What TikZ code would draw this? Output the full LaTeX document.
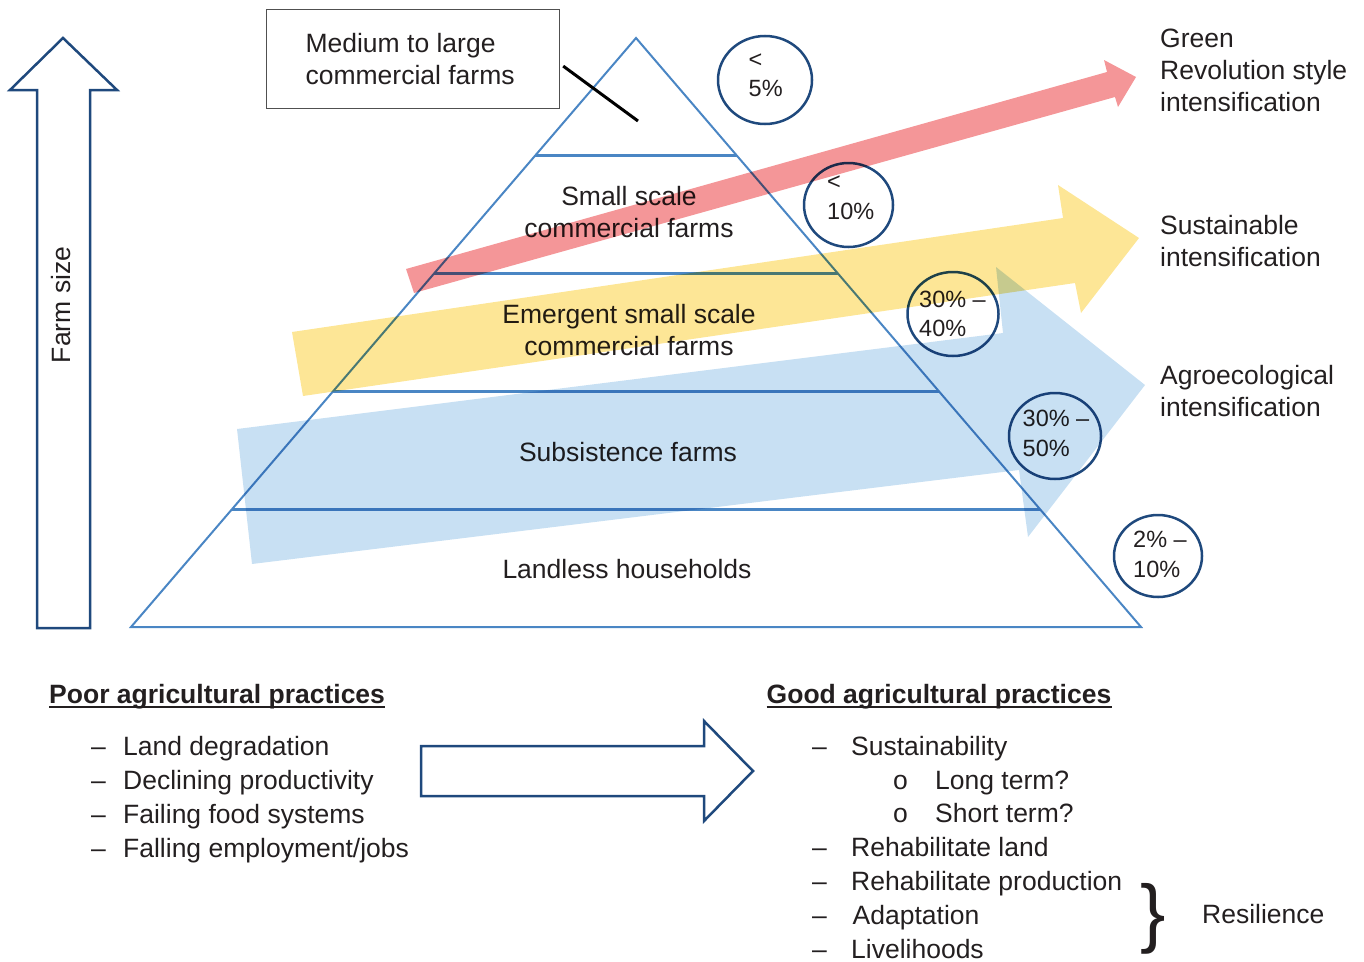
\documentclass[tikz,border=0pt]{standalone}
\usepackage{fontspec}
\setmainfont{Liberation Sans}
\usetikzlibrary{calc,shapes.geometric}

\definecolor{ink}{RGB}{35,31,32}
\definecolor{pyrblue}{RGB}{74,134,196}
\definecolor{navy}{RGB}{31,73,125}
\definecolor{boxgray}{RGB}{80,80,80}
\definecolor{redarr}{RGB}{244,150,152}
\definecolor{yelarr}{RGB}{253,230,150}
\definecolor{bluarr}{RGB}{200,224,243}

\newcommand\lblfont{\fontsize{26.5}{32}\selectfont}
\newcommand\listfont{\fontsize{26.5}{33.8}\selectfont}
\newcommand\pctfont{\fontsize{23.5}{29.5}\selectfont}

\begin{document}
\begin{tikzpicture}[x=1pt,y=-1pt,
    label text/.style={font=\lblfont,text=ink,inner sep=0pt},
    pct ring/.style={ellipse,draw=navy,line width=2.5pt,inner sep=0pt},
    pct text/.style={font=\pctfont,text=ink,align=left,inner sep=0pt,anchor=base west},
    wide arrow/.style={blend mode=multiply}]

  \useasboundingbox (0,0) rectangle (1364,961);

  % farm size arrow
  \draw[navy,line width=2.5pt] (37,628) -- (37,90) -- (10,90) -- (63,38) -- (117,90) -- (90,90) -- (90,628) -- cycle;
  \node[label text,rotate=90,anchor=base] (farmsize) at (70,305) {Farm size};

  % pyramid
  \coordinate (apex) at (636,38);
  \coordinate (bl) at (131,627);
  \coordinate (br) at (1141,627);
  \draw[pyrblue,line width=2pt] (apex) -- (br) -- (bl) -- cycle;
  \foreach \f in {0.2,0.4,0.6,0.8}
    \draw[pyrblue,line width=2.8pt] ($(apex)!\f!(bl)$) -- ($(apex)!\f!(br)$);

  % base anchor of a multi-line node = baseline of its last line
  \node[label text,align=center,anchor=base] (smallfarms) at (629,237.5) {Small scale\\commercial farms};
  \node[label text,align=center,anchor=base] (emergent) at (629,355.5) {Emergent small scale\\commercial farms};
  \node[label text,anchor=base] (subsist) at (628,461.5) {Subsistence farms};
  \node[label text,anchor=base] (landless) at (627,578.5) {Landless households};

  % top box
  \node[label text,draw=boxgray,line width=1.2pt,align=left,minimum width=293,minimum height=99,anchor=north west] (bigfarms) at (266,9) {Medium to large\\commercial farms\hspace*{6pt}};
  \coordinate (mark) at (638,121);
  \draw[black,line width=3pt] ([xshift=3pt,yshift=-7pt]bigfarms.east) -- (mark);

  % shares
  \node[pct ring,minimum width=94,minimum height=88] (pc1) at (765,80) {};
  \node[pct ring,minimum width=89,minimum height=84] (pc2) at (848.5,205) {};
  \node[pct ring,minimum width=91,minimum height=84] (pc3) at (953,314) {};
  \node[pct ring,minimum width=92,minimum height=86] (pc4) at (1055,436) {};
  \node[pct ring,minimum width=88,minimum height=82] (pc5) at (1158,556) {};
  \node[pct text] (t1) at (748.5,96.5) {<\\5\%};
  \node[pct text] (t2) at (827,219.3) {<\\10\%};
  \node[pct text] (t3) at (919,336.7) {30\% –\\40\%};
  \node[pct text] (t4) at (1022.5,456) {30\% –\\50\%};
  \node[pct text] (t5) at (1133,577) {2\% –\\10\%};

  % intensification pathways
  \fill[bluarr,wide arrow] (237,429) -- (1003,333) -- (996,267) -- (1145,385) -- (1028,537) -- (1019,470) -- (252,564) -- cycle;
  \fill[yelarr,wide arrow] (292,332) -- (1063,218) -- (1058,185) -- (1139,238) -- (1081,313) -- (1075,283) -- (303,396) -- cycle;
  \fill[redarr,wide arrow] (406,269) -- (1107,72) -- (1104,60) -- (1136,77) -- (1118,107) -- (1115,97) -- (414,293) -- cycle;

  \node[label text,align=left,anchor=base west] (green) at (1160,111.5) {Green\\Revolution style\\intensification};
  \node[label text,align=left,anchor=base west] (sustain) at (1160,266) {Sustainable\\intensification};
  \node[label text,align=left,anchor=base west] (agro) at (1160,416) {Agroecological\\intensification};

  % practices
  \node[label text,font=\lblfont\bfseries,anchor=base west] (poor) at (49,703) {Poor agricultural practices};
  \draw[ink,line width=2pt] ([yshift=-3.5pt]poor.base west) -- ([yshift=-3.5pt]poor.base east);
  \node[label text,font=\listfont,align=left,anchor=base west] (poorlist) at (91,857)
    {\makebox[32pt][l]{–}Land degradation\\
     \makebox[32pt][l]{–}Declining productivity\\
     \makebox[32pt][l]{–}Failing food systems\\
     \makebox[32pt][l]{–}Falling employment/jobs};

  \draw[navy,line width=2.5pt] (421,746) -- (704,746) -- (704,721) -- (753,771) -- (704,821) -- (704,796) -- (421,796) -- cycle;

  \node[label text,font=\lblfont\bfseries,anchor=base west] (good) at (766.5,703) {Good agricultural practices};
  \draw[ink,line width=2pt] ([yshift=-3.5pt]good.base west) -- ([yshift=-3.5pt]good.base east);
  \node[label text,font=\listfont,align=left,anchor=base west] (goodlist) at (812,958)
    {\makebox[39pt][l]{–}Sustainability\\
     \hspace*{81pt}\makebox[42pt][l]{o}Long term?\\
     \hspace*{81pt}\makebox[42pt][l]{o}Short term?\\
     \makebox[39pt][l]{–}Rehabilitate land\\
     \makebox[39pt][l]{–}Rehabilitate production\\
     \makebox[40.5pt][l]{–}Adaptation\\
     \makebox[39pt][l]{–}Livelihoods};

  \node[inner sep=0pt,text=ink,font=\fontsize{76}{76}\selectfont] (brace) at (1153,919) {\}};
  \node[label text,anchor=base west] (resil) at (1202,923) {Resilience};
\end{tikzpicture}
\end{document}
